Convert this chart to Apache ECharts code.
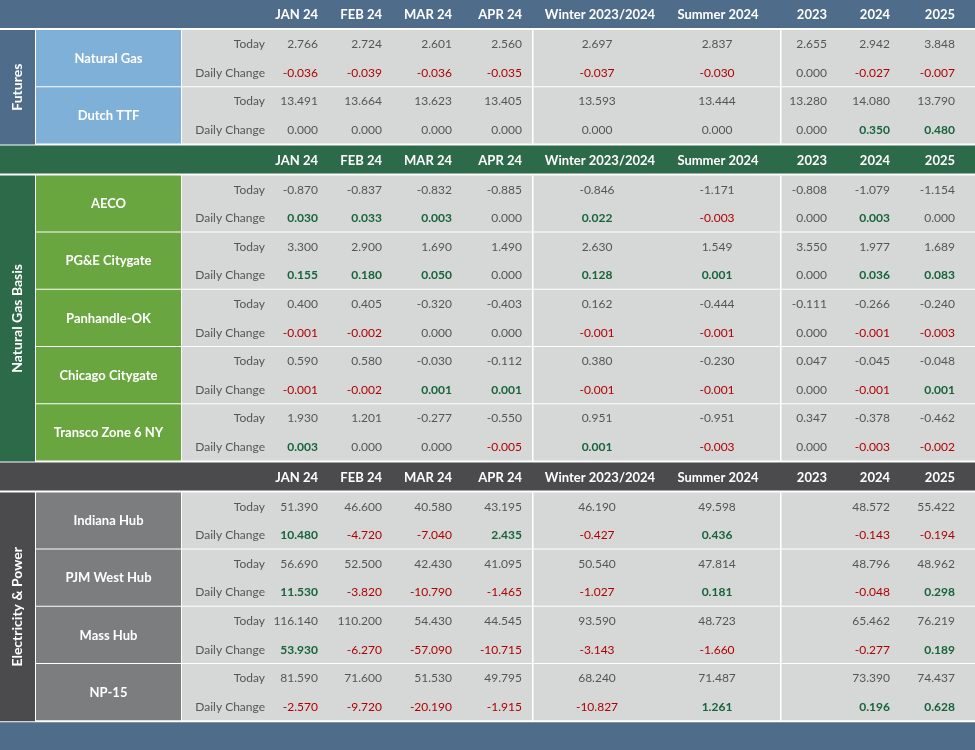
<!DOCTYPE html><html><head><meta charset="utf-8">
<script src="https://cdn.jsdelivr.net/npm/echarts@6/dist/echarts.min.js"></script>
<style>html,body{margin:0;padding:0;background:#4f6d8a}#c{width:975px;height:750px}</style></head><body><div id="c"></div>
<script>
const columns=['JAN 24','FEB 24','MAR 24','APR 24','Winter 2023/2024','Summer 2024','2023','2024','2025'];
const rowLabels=['Today','Daily Change'];
const sectionTitles=['Futures','Natural Gas Basis','Electricity & Power'];
const futuresNames=['Natural Gas','Dutch TTF'];
const futuresToday=[[2.766,2.724,2.601,2.560,2.697,2.837,2.655,2.942,3.848],[13.491,13.664,13.623,13.405,13.593,13.444,13.280,14.080,13.790]];
const futuresChange=[[-0.036,-0.039,-0.036,-0.035,-0.037,-0.030,0,-0.027,-0.007],[0,0,0,0,0,0,0,0.350,0.480]];
const basisNames=['AECO','PG&E Citygate','Panhandle-OK','Chicago Citygate','Transco Zone 6 NY'];
const basisToday=[[-0.870,-0.837,-0.832,-0.885,-0.846,-1.171,-0.808,-1.079,-1.154],[3.300,2.900,1.690,1.490,2.630,1.549,3.550,1.977,1.689],[0.400,0.405,-0.320,-0.403,0.162,-0.444,-0.111,-0.266,-0.240],[0.590,0.580,-0.030,-0.112,0.380,-0.230,0.047,-0.045,-0.048],[1.930,1.201,-0.277,-0.550,0.951,-0.951,0.347,-0.378,-0.462]];
const basisChange=[[0.030,0.033,0.003,0,0.022,-0.003,0,0.003,0],[0.155,0.180,0.050,0,0.128,0.001,0,0.036,0.083],[-0.001,-0.002,0,0,-0.001,-0.001,0,-0.001,-0.003],[-0.001,-0.002,0.001,0.001,-0.001,-0.001,0,-0.001,0.001],[0.003,0,0,-0.005,0.001,-0.003,0,-0.003,-0.002]];
const powerNames=['Indiana Hub','PJM West Hub','Mass Hub','NP-15'];
const powerToday=[[51.390,46.600,40.580,43.195,46.190,49.598,null,48.572,55.422],[56.690,52.500,42.430,41.095,50.540,47.814,null,48.796,48.962],[116.140,110.200,54.430,44.545,93.590,48.723,null,65.462,76.219],[81.590,71.600,51.530,49.795,68.240,71.487,null,73.390,74.437]];
const powerChange=[[10.480,-4.720,-7.040,2.435,-0.427,0.436,null,-0.143,-0.194],[11.530,-3.820,-10.790,-1.465,-1.027,0.181,null,-0.048,0.298],[53.930,-6.270,-57.090,-10.715,-3.143,-1.660,null,-0.277,0.189],[-2.570,-9.720,-20.190,-1.915,-10.827,1.261,null,0.196,0.628]];

const sections=[
 {title:sectionTitles[0],names:futuresNames,today:futuresToday,change:futuresChange,head:'#4f6d8a',side:'#4f6d8a',nameBg:'#7fb1d8'},
 {title:sectionTitles[1],names:basisNames,today:basisToday,change:basisChange,head:'#2d6a4a',side:'#2d6a4a',nameBg:'#6aa63f'},
 {title:sectionTitles[2],names:powerNames,today:powerToday,change:powerChange,head:'#4b4b4d',side:'#4b4b4d',nameBg:'#7b7d7e'}];

// layout
const W=975,font='Lato',sideW=35,nameX=36,nameW=145,lblR=265,dataX=182;
const colX=[318,382,452,522,597,717,827,890,955];
const colAlign=['right','right','right','right','center','center','right','right','right'];
const hdrX=[318,382,452,522,600,718,827,890,955];
const sepX=[532,780];
const hdrH=28,subH=28.6;
const g=[];
function txt(x,y,s,o){g.push({type:'text',x:x,y:y,style:Object.assign({text:s,fontFamily:font,fontSize:12,fill:'#555',align:'right',verticalAlign:'middle'},o||{})});}
function rect(x,y,w,h,c){g.push({type:'rect',shape:{x:x,y:y,width:w,height:h},style:{fill:c}});}
let y=0;
sections.forEach((s,si)=>{
  rect(0,y,W,hdrH,s.head);
  columns.forEach((c,i)=>txt(hdrX[i],y+hdrH/2+1,c,{fill:'#fff',fontWeight:'bold',fontSize:13,align:colAlign[i]==='center'?'center':'right'}));
  y+=hdrH+2;
  const y0=y, gh=subH*2;
  const total=s.names.length*gh;
  rect(0,y0,sideW,total,s.side);
  g.push({type:'text',x:sideW/2,y:y0+total/2,rotation:Math.PI/2,style:{text:s.title,fontFamily:font,fontSize:14,fontWeight:'bold',fill:'#fff',align:'center',verticalAlign:'middle'}});
  s.names.forEach((n,k)=>{
    const gy=y0+k*gh;
    rect(nameX,gy,nameW,gh-1,s.nameBg);
    rect(dataX,gy,W-dataX,gh-1,'#d6d8d8');
    txt(nameX+nameW/2,gy+gh/2,n,{fill:'#fff',fontWeight:'bold',fontSize:13,align:'center'});
    [s.today[k],s.change[k]].forEach((vals,r)=>{
      const ry=gy+subH*r+subH/2;
      txt(lblR,ry,rowLabels[r],{fill:'#555'});
      vals.forEach((v,i)=>{
        if(v===null)return;
        let o={align:colAlign[i]};
        if(r===1&&v>0)o.fill='#17633a',o.fontWeight='bold';
        if(r===1&&v<0)o.fill='#b00000';
        txt(colX[i],ry,v.toFixed(3),o);
      });
    });
  });
  sepX.forEach(x=>rect(x,y0,1.5,total,'#ffffff'));
  y=y0+total+1;
});
rect(0,y,W,750-y,'#4f6d8a');
const chart=echarts.init(document.getElementById('c'));
chart.setOption({backgroundColor:'#ffffff',graphic:{elements:g}});
</script></body></html>
